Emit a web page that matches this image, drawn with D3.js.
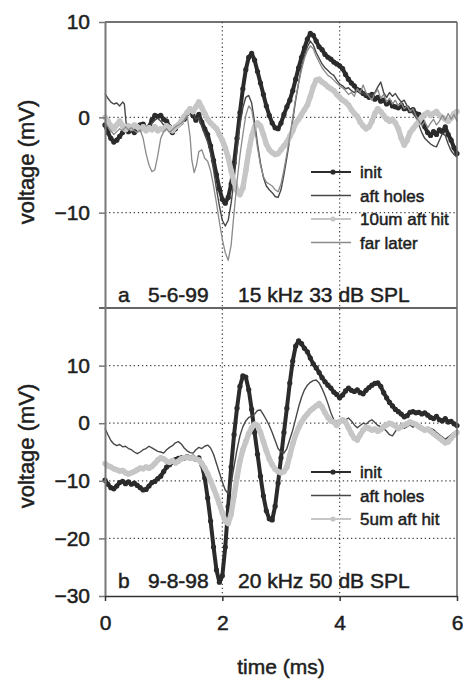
<!DOCTYPE html>
<html>
<head>
<meta charset="utf-8">
<script src="https://cdn.jsdelivr.net/npm/d3@7"></script>
<style>
  body { margin: 0; background: #fff; }
  text { font-family: "Liberation Sans", Arial, sans-serif; fill: #1e1e1e; stroke: #1e1e1e; stroke-width: 0.5px; }
</style>
</head>
<body>
<script>
// chart size
let w = 463;
let h = 679;

// panel a traces, [time ms, voltage mV]
const initA = [[0,-0.8],[0.05,-1.6],[0.1,-2.2],[0.15,-2.6],[0.2,-2.4],[0.25,-2.0],[0.3,-1.6],[0.35,-1.2],[0.4,-1.5],[0.45,-1.3],[0.5,-1.6],[0.55,-1.2],[0.6,-0.8],[0.65,-0.7],[0.7,-1.2],[0.75,-1.0],[0.8,-0.3],[0.85,0.2],[0.9,0.1],[0.95,0.2],[1.0,-0.2],[1.05,-0.4],[1.1,-1.0],[1.15,-1.6],[1.2,-1.2],[1.25,-0.8],[1.3,-0.5],[1.35,-0.2],[1.4,0.4],[1.45,0.8],[1.5,0.2],[1.55,-0.3],[1.6,0.3],[1.65,-0.5],[1.7,-1.2],[1.75,-1.8],[1.8,-3.0],[1.85,-4.5],[1.9,-6.0],[1.95,-7.5],[2.0,-8.6],[2.05,-9.0],[2.1,-8.4],[2.15,-7.0],[2.2,-4.8],[2.25,-2.2],[2.3,0.5],[2.35,3.0],[2.4,5.0],[2.45,6.3],[2.5,6.7],[2.55,6.0],[2.6,4.8],[2.65,3.6],[2.7,2.4],[2.75,1.2],[2.8,0.2],[2.85,-0.6],[2.9,-1.1],[2.95,-1.2],[3.0,-0.6],[3.05,0.3],[3.1,1.1],[3.15,1.8],[3.2,2.8],[3.25,4.0],[3.3,5.2],[3.35,6.3],[3.4,7.3],[3.45,8.2],[3.5,8.8],[3.55,8.6],[3.6,8.0],[3.65,7.4],[3.7,7.1],[3.75,6.6],[3.8,6.3],[3.85,6.1],[3.9,5.8],[3.95,5.6],[4.0,5.4],[4.05,5.1],[4.1,4.5],[4.15,4.0],[4.2,3.6],[4.25,3.3],[4.3,2.9],[4.35,2.8],[4.4,2.5],[4.45,2.3],[4.5,2.1],[4.55,2.4],[4.6,1.9],[4.65,2.1],[4.7,1.7],[4.75,1.8],[4.8,1.4],[4.85,1.6],[4.9,1.2],[4.95,1.1],[5.0,1.0],[5.05,1.3],[5.1,0.9],[5.15,1.0],[5.2,0.7],[5.25,0.8],[5.3,0.4],[5.35,0.3],[5.4,-0.3],[5.45,-1.0],[5.5,-1.6],[5.55,-1.9],[5.6,-1.5],[5.65,-1.8],[5.7,-1.3],[5.75,-1.5],[5.8,-1.0],[5.85,-1.8],[5.9,-2.4],[5.95,-3.2],[6.0,-3.8]];

const holesA = [[0,2.5],[0.05,2.0],[0.1,1.6],[0.15,1.4],[0.2,1.5],[0.25,1.2],[0.3,1.6],[0.33,1.4],[0.36,-0.6],[0.4,-1.2],[0.45,-1.5],[0.5,-1.3],[0.55,-1.0],[0.6,-1.2],[0.65,-0.9],[0.7,-1.4],[0.75,-1.1],[0.8,-0.6],[0.85,-0.3],[0.9,-0.1],[0.95,-0.4],[1.0,-0.8],[1.05,-1.2],[1.1,-1.5],[1.15,-1.3],[1.2,-0.9],[1.25,-0.6],[1.3,-0.8],[1.35,-0.3],[1.4,0.2],[1.45,0.6],[1.5,0.3],[1.55,-0.2],[1.6,0.0],[1.65,-1.0],[1.7,-1.8],[1.75,-2.6],[1.8,-3.8],[1.85,-5.5],[1.9,-7.5],[1.95,-9.3],[2.0,-10.8],[2.05,-11.4],[2.1,-10.8],[2.15,-9.0],[2.2,-6.5],[2.25,-3.5],[2.3,-0.8],[2.35,1.0],[2.4,2.1],[2.45,2.3],[2.5,1.5],[2.55,-0.5],[2.6,-2.8],[2.65,-4.8],[2.7,-6.3],[2.75,-7.2],[2.8,-7.6],[2.85,-7.9],[2.9,-8.3],[2.95,-8.4],[3.0,-7.6],[3.05,-6.0],[3.1,-4.2],[3.15,-2.3],[3.2,-0.3],[3.25,1.8],[3.3,3.6],[3.35,5.3],[3.4,6.5],[3.45,7.4],[3.5,8.0],[3.55,7.6],[3.6,6.8],[3.65,6.2],[3.7,5.6],[3.75,5.2],[3.8,4.9],[3.85,4.6],[3.9,4.4],[3.95,3.9],[4.0,3.5],[4.05,3.3],[4.1,3.0],[4.15,3.1],[4.2,2.8],[4.25,2.6],[4.3,2.9],[4.35,2.5],[4.4,2.6],[4.45,2.3],[4.5,2.5],[4.55,2.2],[4.6,2.6],[4.65,3.2],[4.7,3.7],[4.75,2.6],[4.8,2.1],[4.85,2.6],[4.9,2.2],[4.95,2.5],[5.0,2.0],[5.05,1.6],[5.1,1.8],[5.15,1.2],[5.2,0.8],[5.25,0.4],[5.3,0.0],[5.35,-0.8],[5.4,-1.6],[5.45,-2.2],[5.5,-2.5],[5.55,-2.8],[5.6,-3.0],[5.65,-3.1],[5.7,-2.4],[5.75,-1.7],[5.8,-1.9],[5.85,-2.8],[5.9,-3.5],[5.95,-3.9],[6.0,-4.2]];

const hit10A = [[0,0.0],[0.05,-0.4],[0.1,-0.9],[0.15,-1.2],[0.2,-0.8],[0.25,-0.4],[0.3,-0.9],[0.35,-1.3],[0.4,-0.9],[0.45,-1.1],[0.5,-0.8],[0.55,-1.0],[0.6,-1.3],[0.65,-1.0],[0.7,-1.4],[0.75,-1.1],[0.8,-1.3],[0.85,-1.0],[0.9,-1.4],[0.95,-1.2],[1.0,-1.3],[1.05,-0.9],[1.1,-1.1],[1.15,-1.4],[1.2,-1.0],[1.25,-0.8],[1.3,-0.4],[1.35,0.1],[1.4,0.5],[1.45,0.9],[1.5,0.6],[1.55,1.1],[1.6,1.6],[1.65,1.0],[1.7,0.4],[1.75,-0.2],[1.8,-0.6],[1.85,-0.9],[1.9,-1.2],[1.95,-1.8],[2.0,-2.4],[2.05,-3.2],[2.1,-4.2],[2.15,-5.6],[2.2,-6.8],[2.25,-7.7],[2.3,-8.1],[2.35,-7.4],[2.4,-5.6],[2.45,-3.6],[2.5,-2.0],[2.55,-1.0],[2.6,-0.6],[2.65,-0.9],[2.7,-1.8],[2.75,-2.8],[2.8,-3.4],[2.85,-3.7],[2.9,-3.9],[2.95,-3.8],[3.0,-3.4],[3.05,-3.0],[3.1,-2.6],[3.15,-2.0],[3.2,-1.4],[3.25,-0.6],[3.3,-0.2],[3.35,0.3],[3.4,0.8],[3.45,1.3],[3.5,2.2],[3.55,3.2],[3.6,3.9],[3.65,4.0],[3.7,3.7],[3.75,3.5],[3.8,3.2],[3.85,3.0],[3.9,2.8],[3.95,2.4],[4.0,2.1],[4.05,1.8],[4.1,1.6],[4.15,1.3],[4.2,0.8],[4.25,0.4],[4.3,0.1],[4.35,-0.5],[4.4,-0.9],[4.45,-1.2],[4.5,-1.0],[4.55,-0.4],[4.6,0.4],[4.65,0.9],[4.7,0.6],[4.75,0.2],[4.8,-0.2],[4.85,-0.4],[4.9,-0.2],[4.95,-0.6],[5.0,-1.2],[5.05,-2.2],[5.1,-2.9],[5.15,-2.4],[5.2,-1.6],[5.25,-1.2],[5.3,-0.8],[5.35,-0.4],[5.4,0.0],[5.45,0.3],[5.5,0.5],[5.55,0.2],[5.6,0.4],[5.65,0.6],[5.7,0.2],[5.75,0.0],[5.8,-0.2],[5.85,-0.4],[5.9,-0.1],[5.95,0.4],[6.0,0.6]];

const laterA = [[0,-0.6],[0.05,-1.0],[0.1,-1.4],[0.15,-1.8],[0.2,-1.5],[0.25,-1.2],[0.3,-1.4],[0.35,-1.0],[0.4,-1.3],[0.45,-1.1],[0.5,-1.4],[0.55,-1.6],[0.6,-1.3],[0.65,-2.2],[0.7,-3.8],[0.75,-5.0],[0.8,-5.7],[0.85,-5.5],[0.9,-4.0],[0.95,-2.2],[1.0,-1.5],[1.05,-1.2],[1.1,-1.6],[1.15,-1.3],[1.2,-1.0],[1.25,-0.8],[1.3,-0.6],[1.35,-0.3],[1.4,0.2],[1.45,-2.0],[1.48,-4.5],[1.52,-5.8],[1.56,-5.0],[1.6,-3.6],[1.65,-3.4],[1.7,-4.3],[1.75,-4.6],[1.8,-5.6],[1.85,-7.2],[1.9,-9.0],[1.95,-11.0],[2.0,-12.8],[2.05,-14.2],[2.1,-15.0],[2.15,-13.4],[2.2,-10.0],[2.25,-6.8],[2.3,-4.0],[2.35,-1.8],[2.4,0.2],[2.45,1.2],[2.5,0.8],[2.55,-1.0],[2.6,-3.2],[2.65,-5.0],[2.7,-6.2],[2.75,-6.8],[2.8,-7.0],[2.85,-7.2],[2.9,-7.6],[2.95,-7.8],[3.0,-7.0],[3.05,-5.5],[3.1,-3.8],[3.15,-2.0],[3.2,0.0],[3.25,2.0],[3.3,3.6],[3.35,5.0],[3.4,6.2],[3.45,7.0],[3.5,7.5],[3.55,7.2],[3.6,6.4],[3.65,5.8],[3.7,5.2],[3.75,4.8],[3.8,4.4],[3.85,4.2],[3.9,3.9],[3.95,3.6],[4.0,3.3],[4.05,3.1],[4.1,2.8],[4.15,2.4],[4.2,2.6],[4.25,2.2],[4.3,3.0],[4.35,2.6],[4.4,3.4],[4.45,2.6],[4.5,2.2],[4.55,1.8],[4.6,2.5],[4.65,2.9],[4.7,2.0],[4.75,2.4],[4.8,1.6],[4.85,2.0],[4.9,1.4],[4.95,1.8],[5.0,1.2],[5.05,1.5],[5.1,0.9],[5.15,1.2],[5.2,0.6],[5.25,0.9],[5.3,0.2],[5.35,-0.4],[5.4,-0.9],[5.45,-0.4],[5.5,-1.1],[5.55,-0.6],[5.6,-0.2],[5.65,-0.8],[5.7,-0.4],[5.75,0.2],[5.8,-0.3],[5.85,0.4],[5.9,-0.2],[5.95,0.3],[6.0,-0.4]];

// panel b traces
const initB = [[0,-9.9],[0.05,-10.6],[0.1,-11.2],[0.15,-11.4],[0.2,-10.9],[0.25,-10.3],[0.3,-10.1],[0.35,-10.5],[0.4,-10.2],[0.45,-10.6],[0.5,-10.4],[0.55,-10.8],[0.6,-11.2],[0.65,-11.6],[0.7,-11.5],[0.75,-10.9],[0.8,-10.3],[0.85,-10.1],[0.9,-9.6],[0.95,-9.2],[1.0,-8.4],[1.05,-7.6],[1.1,-7.2],[1.15,-6.8],[1.2,-6.3],[1.25,-6.1],[1.3,-6.0],[1.35,-6.1],[1.4,-5.8],[1.45,-6.0],[1.5,-5.9],[1.55,-6.3],[1.6,-6.0],[1.65,-7.2],[1.7,-9.5],[1.75,-13.0],[1.8,-17.0],[1.85,-21.5],[1.9,-25.5],[1.95,-27.6],[2.0,-26.5],[2.05,-21.5],[2.1,-14.5],[2.15,-7.6],[2.2,-2.0],[2.25,2.6],[2.3,6.4],[2.35,8.2],[2.4,8.0],[2.45,5.8],[2.5,2.4],[2.55,-1.6],[2.6,-5.4],[2.65,-9.2],[2.7,-12.6],[2.75,-15.2],[2.8,-16.6],[2.85,-16.8],[2.9,-14.4],[2.95,-10.4],[3.0,-6.0],[3.05,-1.6],[3.1,2.6],[3.15,7.0],[3.2,10.8],[3.25,13.4],[3.3,14.3],[3.35,13.8],[3.4,13.0],[3.45,12.4],[3.5,11.3],[3.55,10.3],[3.6,9.6],[3.65,8.8],[3.7,7.9],[3.75,7.2],[3.8,6.6],[3.85,6.1],[3.9,5.4],[3.95,5.0],[4.0,4.4],[4.05,4.9],[4.1,5.6],[4.15,6.1],[4.2,5.7],[4.25,5.5],[4.3,5.8],[4.35,5.3],[4.4,5.1],[4.45,5.7],[4.5,6.2],[4.55,6.6],[4.6,6.9],[4.65,7.0],[4.7,6.4],[4.75,5.3],[4.8,4.4],[4.85,3.6],[4.9,3.0],[4.95,2.4],[5.0,2.0],[5.05,1.6],[5.1,1.1],[5.15,1.3],[5.2,1.9],[5.25,2.0],[5.3,1.8],[5.35,1.9],[5.4,1.6],[5.45,1.8],[5.5,1.4],[5.55,1.0],[5.6,0.8],[5.65,1.2],[5.7,0.6],[5.75,0.4],[5.8,0.8],[5.85,0.2],[5.9,0.3],[5.95,-0.1],[6.0,-0.4]];

const holesB = [[0,-0.9],[0.05,-2.0],[0.1,-3.0],[0.15,-3.6],[0.2,-3.9],[0.25,-3.7],[0.3,-4.1],[0.35,-4.0],[0.4,-4.4],[0.45,-4.6],[0.5,-5.0],[0.55,-5.3],[0.6,-5.0],[0.65,-4.6],[0.7,-4.4],[0.75,-4.0],[0.8,-4.3],[0.85,-4.6],[0.9,-4.9],[0.95,-5.0],[1.0,-5.2],[1.05,-4.6],[1.1,-4.2],[1.15,-3.9],[1.2,-3.4],[1.25,-3.2],[1.3,-3.6],[1.35,-4.3],[1.4,-4.8],[1.45,-5.1],[1.5,-5.2],[1.55,-4.6],[1.6,-4.2],[1.65,-4.4],[1.7,-4.0],[1.75,-3.8],[1.8,-4.3],[1.85,-5.4],[1.9,-7.0],[1.95,-8.6],[2.0,-10.2],[2.05,-11.6],[2.1,-12.2],[2.15,-10.5],[2.2,-7.5],[2.25,-4.6],[2.3,-2.2],[2.35,-0.6],[2.4,0.4],[2.45,1.0],[2.5,1.2],[2.55,1.6],[2.6,2.2],[2.65,2.3],[2.7,1.5],[2.75,0.6],[2.8,-0.4],[2.85,-1.6],[2.9,-3.0],[2.95,-4.4],[3.0,-5.0],[3.05,-5.2],[3.1,-4.4],[3.15,-2.8],[3.2,-1.2],[3.25,0.8],[3.3,2.8],[3.35,4.5],[3.4,5.8],[3.45,6.6],[3.5,7.1],[3.55,7.4],[3.6,7.5],[3.65,7.0],[3.7,6.0],[3.75,4.8],[3.8,3.4],[3.85,1.8],[3.9,0.6],[3.95,0.3],[4.0,0.5],[4.05,0.2],[4.1,0.6],[4.15,0.9],[4.2,0.4],[4.25,-0.3],[4.3,-0.8],[4.35,-0.4],[4.4,0.0],[4.45,-0.2],[4.5,0.3],[4.55,0.6],[4.6,0.1],[4.65,-0.4],[4.7,-0.6],[4.75,-0.9],[4.8,-1.4],[4.85,-2.0],[4.9,-2.2],[4.95,-1.4],[5.0,-0.8],[5.05,-0.5],[5.1,-0.9],[5.15,-0.6],[5.2,-0.3],[5.25,-0.7],[5.3,-0.4],[5.35,-0.9],[5.4,-0.6],[5.45,-1.0],[5.5,-1.3],[5.55,-0.9],[5.6,-1.1],[5.65,-1.6],[5.7,-2.0],[5.75,-2.4],[5.8,-2.8],[5.85,-2.4],[5.9,-2.0],[5.95,-1.6],[6.0,-1.5]];

const hit5B = [[0,-7.0],[0.05,-7.4],[0.1,-7.6],[0.15,-7.9],[0.2,-8.1],[0.25,-8.3],[0.3,-8.2],[0.35,-8.6],[0.4,-8.8],[0.45,-8.6],[0.5,-8.4],[0.55,-8.1],[0.6,-7.8],[0.65,-7.9],[0.7,-7.6],[0.75,-7.8],[0.8,-7.5],[0.85,-7.0],[0.9,-6.4],[0.95,-6.0],[1.0,-6.2],[1.05,-6.6],[1.1,-6.8],[1.15,-6.5],[1.2,-6.9],[1.25,-6.6],[1.3,-6.2],[1.35,-6.0],[1.4,-5.9],[1.45,-6.1],[1.5,-6.0],[1.55,-6.2],[1.6,-6.4],[1.65,-7.0],[1.7,-7.8],[1.75,-8.8],[1.8,-10.0],[1.85,-11.3],[1.9,-12.6],[1.95,-14.0],[2.0,-15.6],[2.05,-17.0],[2.1,-17.4],[2.15,-15.8],[2.2,-12.6],[2.25,-9.4],[2.3,-6.6],[2.35,-4.6],[2.4,-3.2],[2.45,-1.8],[2.5,-0.8],[2.55,-0.2],[2.6,-0.4],[2.65,-1.6],[2.7,-3.2],[2.75,-4.8],[2.8,-6.2],[2.85,-7.2],[2.9,-8.0],[2.95,-8.4],[3.0,-8.6],[3.05,-8.4],[3.1,-7.6],[3.15,-5.6],[3.2,-3.6],[3.25,-2.0],[3.3,-0.8],[3.35,0.2],[3.4,1.0],[3.45,1.6],[3.5,2.2],[3.55,2.6],[3.6,3.0],[3.65,3.4],[3.7,2.8],[3.75,1.8],[3.8,1.0],[3.85,0.4],[3.9,0.2],[3.95,-0.4],[4.0,0.3],[4.05,0.6],[4.1,0.2],[4.15,-0.8],[4.2,-1.8],[4.25,-2.6],[4.3,-2.9],[4.35,-2.0],[4.4,-1.2],[4.45,-0.7],[4.5,-0.9],[4.55,-1.2],[4.6,-1.0],[4.65,-1.4],[4.7,-1.1],[4.75,-0.6],[4.8,-0.3],[4.85,0.0],[4.9,-0.2],[4.95,-0.5],[5.0,-0.9],[5.05,-0.6],[5.1,-0.3],[5.15,-0.1],[5.2,0.2],[5.25,0.0],[5.3,-0.2],[5.35,-0.6],[5.4,-0.9],[5.45,-1.2],[5.5,-1.0],[5.55,-1.4],[5.6,-1.8],[5.65,-2.2],[5.7,-2.6],[5.75,-3.0],[5.8,-3.4],[5.85,-3.2],[5.9,-2.6],[5.95,-2.0],[6.0,-1.6]];

// tick labels and legend names
const xTicks = [0, 2, 4, 6];
const yTicksA = [10, 0, -10];
const yTicksB = [10, 0, -10, -20, -30];
const gridA = [0, -10];
const gridB = [10, 0, -10, -20];
const namesA = ["init", "aft holes", "10um aft hit", "far later"];
const namesB = ["init", "aft holes", "5um aft hit"];

// line styles per series kind
const styles = {
  init:  { color: "#2b2b2b", width: 4, dot: 2.6 },
  holes: { color: "#474747", width: 1.4, dot: 0 },
  hit:   { color: "#c6c6c6", width: 5.4, dot: 2.8 },
  later: { color: "#8a8a8a", width: 1.3, dot: 0 }
};

let svg = d3.select("body").append("svg")
    .attr("width", w)
    .attr("height", h);

// scales
let x = d3.scaleLinear().domain([0, 6]).range([105, 457]);
let yA = d3.scaleLinear().domain([-20, 10]).range([308, 22]);
let yB = d3.scaleLinear().domain([-30, 20]).range([596, 308]);

// dotted grid lines
function hGrid(y, vals) {
  svg.append("g").selectAll("line").data(vals).enter().append("line")
      .attr("x1", x(0)).attr("x2", x(6))
      .attr("y1", d => y(d)).attr("y2", d => y(d))
      .attr("stroke", "#444").attr("stroke-width", 1.2)
      .attr("stroke-dasharray", "1.3,2.8");
}
hGrid(yA, gridA);
hGrid(yB, gridB);
svg.append("g").selectAll("line").data([2, 4]).enter().append("line")
    .attr("x1", d => x(d)).attr("x2", d => x(d))
    .attr("y1", yA(10)).attr("y2", yB(-30))
    .attr("stroke", "#444").attr("stroke-width", 1.2)
    .attr("stroke-dasharray", "1.3,2.8");

// draw one trace
function trace(y, data, st) {
  let line = d3.line().x(d => x(d[0])).y(d => y(d[1]));
  let g = svg.append("g");
  g.append("path").datum(data).attr("d", line)
      .attr("fill", "none").attr("stroke", st.color)
      .attr("stroke-width", st.width).attr("stroke-linejoin", "round");
  if (st.dot > 0) {
    g.selectAll("circle").data(data).enter().append("circle")
        .attr("cx", d => x(d[0])).attr("cy", d => y(d[1]))
        .attr("r", st.dot).attr("fill", st.color);
  }
}
trace(yA, initA, styles.init);
trace(yA, holesA, styles.holes);
trace(yA, hit10A, styles.hit);
trace(yA, laterA, styles.later);

trace(yB, initB, styles.init);
trace(yB, holesB, styles.holes);
trace(yB, hit5B, styles.hit);

// frame lines
svg.append("line").attr("x1", x(0)).attr("x2", x(6)).attr("y1", yA(10)).attr("y2", yA(10))
    .attr("stroke", "#444").attr("stroke-width", 1.5);
svg.append("line").attr("x1", x(0) - 6).attr("x2", x(6)).attr("y1", yA(-20)).attr("y2", yA(-20))
    .attr("stroke", "#333").attr("stroke-width", 1.5);
svg.append("line").attr("x1", x(6)).attr("x2", x(6)).attr("y1", yA(10)).attr("y2", yB(-30))
    .attr("stroke", "#666").attr("stroke-width", 1.5);

// axes
function styleAxis(g, col) {
  g.select(".domain").attr("stroke", col).attr("stroke-width", 2);
  g.selectAll(".tick line").attr("stroke", col).attr("stroke-width", 1.5);
  g.selectAll(".tick text").attr("fill", "#1e1e1e")
      .style("font-size", "21px").style("font-family", "Liberation Sans, Arial, sans-serif");
}
let axA = svg.append("g").attr("transform", "translate(" + x(0) + ",0)")
    .call(d3.axisLeft(yA).tickValues(yTicksA).tickSize(6).tickPadding(9).tickSizeOuter(0));
styleAxis(axA, "#777");
let axB = svg.append("g").attr("transform", "translate(" + x(0) + ",0)")
    .call(d3.axisLeft(yB).tickValues(yTicksB).tickSize(6).tickPadding(9).tickSizeOuter(0));
styleAxis(axB, "#777");
let axX = svg.append("g").attr("transform", "translate(0," + yB(-30) + ")")
    .call(d3.axisBottom(x).tickValues(xTicks).tickFormat(d3.format("d"))
      .tickSize(5).tickPadding(14).tickSizeOuter(0));
styleAxis(axX, "#333");
axX.select(".domain").attr("stroke-width", 1.5);

// axis titles
svg.append("text").attr("x", 281).attr("y", 674).attr("text-anchor", "middle")
    .style("font-size", "21px").text("time (ms)");
[162, 446].forEach(function (cy) {
  svg.append("text")
      .attr("transform", "translate(34," + cy + ") rotate(-90)")
      .attr("text-anchor", "middle")
      .style("font-size", "22px").text("voltage (mV)");
});

// panel captions
function caption(yb, letter, date, cond) {
  svg.append("text").attr("x", 118).attr("y", yb).style("font-size", "21px").text(letter);
  svg.append("text").attr("x", 148).attr("y", yb).style("font-size", "21px").text(date);
  svg.append("text").attr("x", 238).attr("y", yb).style("font-size", "21px").text(cond);
}
caption(302, "a", "5-6-99", "15 kHz 33 dB SPL");
caption(588, "b", "9-8-98", "20 kHz 50 dB SPL");

// legends
function legend(y0, names, keys) {
  names.forEach(function (n, i) {
    let st = styles[keys[i]];
    let yy = y0 + i * 23.5;
    svg.append("line").attr("x1", 311).attr("x2", 351).attr("y1", yy).attr("y2", yy)
        .attr("stroke", st.color).attr("stroke-width", Math.min(st.width, 2));
    if (st.dot > 0) {
      svg.append("circle").attr("cx", 333).attr("cy", yy).attr("r", 2.6).attr("fill", st.color);
    }
    svg.append("text").attr("x", 360).attr("y", yy + 6)
        .style("font-size", "17px").text(n);
  });
}
legend(172, namesA, ["init", "holes", "hit", "later"]);
legend(472, namesB, ["init", "holes", "hit"]);
</script>
</body>
</html>
